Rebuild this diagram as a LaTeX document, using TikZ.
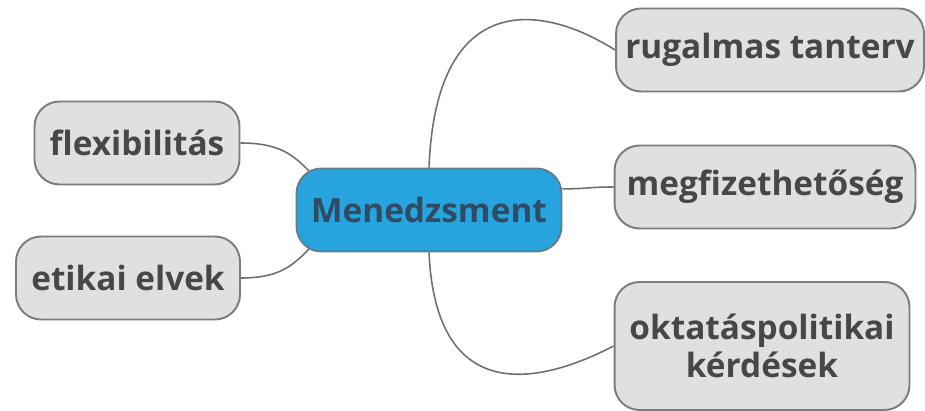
\documentclass[tikz,border=0pt]{standalone}
\usepackage{fontspec}
\setmainfont{Open Sans}
\usepackage{xcolor}
\usepackage{tikz}
\usetikzlibrary{backgrounds}

\definecolor{fondogris}{HTML}{E0E0E0}
\definecolor{bordegris}{HTML}{7C7C7C}
\definecolor{textogris}{HTML}{474747}
\definecolor{azulcentro}{HTML}{27A4DD}
\definecolor{bordeazul}{HTML}{5F7F8E}
\definecolor{textoazul}{HTML}{304B63}
\definecolor{lineagris}{HTML}{707070}

\begin{document}
\begin{tikzpicture}[x=0.02cm,y=-0.02cm,
    rama/.style={draw=bordegris, line width=1.1pt, fill=fondogris,
      rounded corners=0.5cm, text=textogris, minimum height=1.66cm,
      font=\bfseries\fontsize{19}{22}\selectfont},
    centro/.style={rama, draw=bordeazul, fill=azulcentro, text=textoazul},
    enlace/.style={draw=lineagris, line width=0.9pt}]

    % Marco de la figura
    \useasboundingbox (0,0) rectangle (925,411);

    % Nodo central
    \node[centro, minimum width=5.3cm] (menedzsment) at (429,210) {Menedzsment};

    % Ramas de la izquierda
    \node[rama, minimum width=4.1cm] (flexibilitas) at (137,143) {flexibilitás};
    \node[rama, minimum width=4.48cm] (etikai) at (128,278) {etikai elvek};

    % Ramas de la derecha
    \node[rama, minimum width=6.16cm] (rugalmas) at (770,50) {rugalmas tanterv};
    \node[rama, minimum width=6.02cm] (megfizet) at (765,187) {megfizethetőség};
    \node[rama, minimum width=5.9cm, minimum height=2.56cm, align=center]
        (oktatas) at (762,346) {oktatáspolitikai\\kérdések};

    % Conexiones detras de los nodos
    \begin{pgfonlayer}{background}
        \draw[enlace] (flexibilitas.east) .. controls +(40,0) and +(-16,-16)
            .. ([shift={(14,4)}]menedzsment.north west);
        \draw[enlace] (etikai.east) .. controls +(40,0) and +(-16,16)
            .. ([shift={(14,-4)}]menedzsment.south west);
        \draw[enlace] (menedzsment.north) .. controls +(7,-178) and +(-74,-47)
            .. (rugalmas.west);
        \draw[enlace] (menedzsment.9) .. controls +(25,0) and +(-25,0)
            .. (megfizet.west);
        \draw[enlace] (menedzsment.south) .. controls +(7,154) and +(-75,39)
            .. (oktatas.west);
    \end{pgfonlayer}
\end{tikzpicture}
\end{document}
